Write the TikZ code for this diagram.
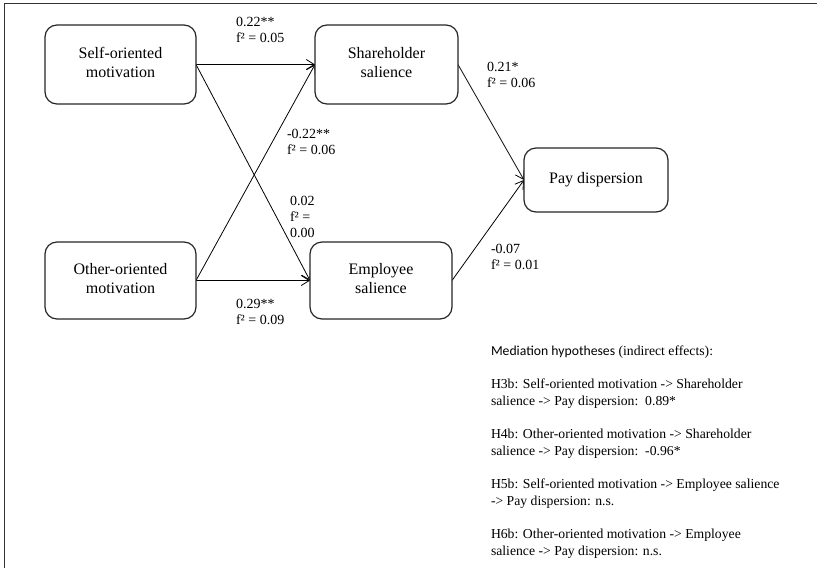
\documentclass[tikz,border=0pt]{standalone}
\usepackage{fontspec}
\setmainfont{Liberation Serif}
\newfontfamily\calibrifont{Carlito}
\usepackage{tikz-network}
\usetikzlibrary{arrows.meta}

\tikzset{
  salbox/.style={rectangle, rounded corners=12pt, align=center, inner sep=0pt},
  pathedge/.style={-{Straight Barb[length=8pt,width=10pt]}, line width=0.8pt},
  coefnote/.style={anchor=west, align=left, inner sep=0pt}
}

\begin{document}
\begin{tikzpicture}[x=1pt,y=1pt]

\SetDefaultUnit{pt}
\SetVertexStyle[LineWidth=1.2pt, FillColor=white, LineColor=black!85, TextFont=\fontsize{16}{18.4}\selectfont]
\SetEdgeStyle[Color=black]
\SetTextStyle[TextFont=\fontsize{14}{16}\selectfont]

\useasboundingbox (0,0) rectangle (817,-568);
\draw[line width=1.3pt, black!80] (4.5,-568) -- (4.5,-3.5) -- (817,-3.5);

\Vertex[x=120.5,y=-64.5,label={\begin{tabular}{@{}c@{}}Self-oriented\\motivation\end{tabular}},style={salbox, minimum width=151pt, minimum height=79pt}]{SelfMot}
\Vertex[x=120.5,y=-280.5,label={\begin{tabular}{@{}c@{}}Other-oriented\\motivation\end{tabular}},style={salbox, minimum width=151pt, minimum height=77pt}]{OtherMot}
\Vertex[x=386.5,y=-64.5,label={\begin{tabular}{@{}c@{}}Shareholder\\salience\end{tabular}},style={salbox, minimum width=143pt, minimum height=79pt}]{ShareSal}
\Vertex[x=381,y=-280.5,label={\begin{tabular}{@{}c@{}}Employee\\salience\end{tabular}},style={salbox, minimum width=142pt, minimum height=77pt}]{EmpSal}
\Vertex[x=596,y=-180,label={Pay dispersion},style={salbox, minimum width=144pt, minimum height=64pt}]{PayDisp}

\Edge[Direct,style=pathedge](SelfMot.east)(ShareSal.west)
\Edge[Direct,style=pathedge](SelfMot.east)(EmpSal.west)
\Edge[Direct,style=pathedge](OtherMot.east)(ShareSal.west)
\Edge[Direct,style=pathedge](OtherMot.east)(EmpSal.west)
\Edge[Direct,style=pathedge](ShareSal.east)(PayDisp.west)
\Edge[Direct,style=pathedge](EmpSal.east)(PayDisp.west)

\Text[x=236,y=-30,style=coefnote]{0.22**\\f² = 0.05}
\Text[x=287,y=-142,style=coefnote]{-0.22**\\f² = 0.06}
\Text[x=290,y=-217,style=coefnote]{0.02\\f² =\\0.00}
\Text[x=236,y=-312,style=coefnote]{0.29**\\f² = 0.09}
\Text[x=487,y=-75,style=coefnote]{0.21*\\f² = 0.06}
\Text[x=491,y=-257,style=coefnote]{-0.07\\f² = 0.01}

\SetTextStyle[TextFont=\fontsize{13.7}{16.7}\selectfont]
\Text[x=491,y=-352,style=coefnote]{{\calibrifont Mediation hypotheses} (indirect effects):}
\Text[x=491,y=-393.5,style=coefnote]{H3b: Self-oriented motivation -> Shareholder\\salience -> Pay dispersion:\ \ 0.89*}
\Text[x=491,y=-443.5,style=coefnote]{H4b: Other-oriented motivation -> Shareholder\\salience -> Pay dispersion:\ \ -0.96*}
\Text[x=491,y=-493.5,style=coefnote]{H5b: Self-oriented motivation -> Employee salience\\-> Pay dispersion: n.s.}
\Text[x=491,y=-543.5,style=coefnote]{H6b: Other-oriented motivation -> Employee\\salience -> Pay dispersion: n.s.}

\end{tikzpicture}
\end{document}
